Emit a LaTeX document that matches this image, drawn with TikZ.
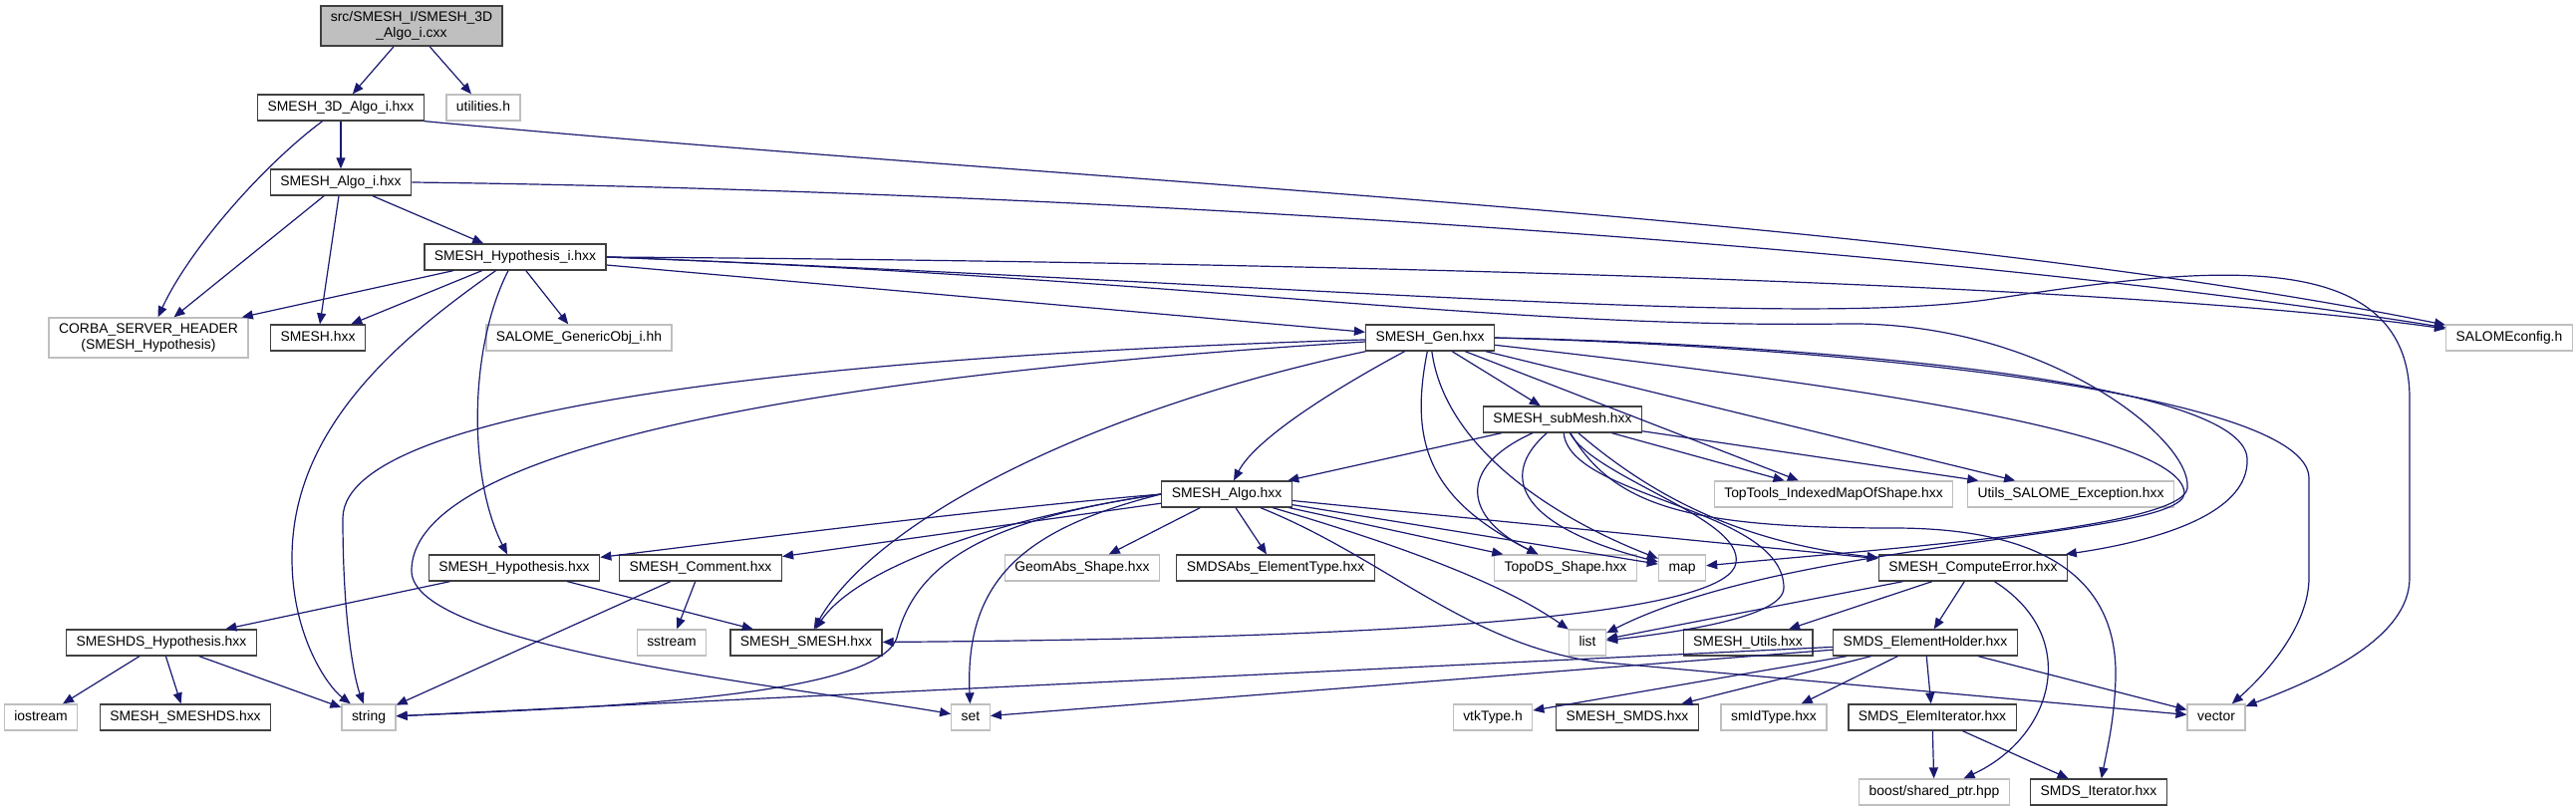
\documentclass[tikz,border=0pt]{standalone}
\usepackage{fontspec}
\setmainfont{Liberation Sans}
\usetikzlibrary{arrows.meta}
\definecolor{edgeblue}{HTML}{191970}
\definecolor{sysgray}{HTML}{BFBFBF}
\definecolor{boxline}{HTML}{404040}
\newcommand{\boxfont}{\fontsize{13.9}{15.5}\selectfont}
\tikzset{
  box/.style={draw=boxline, fill=white, line width=1.3pt, inner xsep=10pt, inner ysep=2pt, minimum height=26pt, font=\boxfont},
  file/.style={box, text height=10pt, text depth=3pt},
  sysfile/.style={file, draw=sysgray},
  dep/.style={-{Triangle[length=11pt,width=9pt]}, draw=edgeblue, line width=1.2pt},
}
\begin{document}
\begin{tikzpicture}[x=1pt, y=-1pt]
    \useasboundingbox (0,0) rectangle (2585,813);

    % files, rank by rank
    \node[box, align=center, fill=sysgray, minimum height=40pt] (src) at (413,26) {src/SMESH\_I/SMESH\_3D\\\_Algo\_i.cxx};
    \node[file] (algo3d) at (342,108) {SMESH\_3D\_Algo\_i.hxx};
    \node[sysfile] (utilities) at (485,108) {utilities.h};
    \node[file] (algoi) at (342,183) {SMESH\_Algo\_i.hxx};
    \node[file] (hypi) at (517,258) {SMESH\_Hypothesis\_i.hxx};
    \node[box, align=center, draw=sysgray, minimum height=40pt] (corba) at (149,339) {CORBA\_SERVER\_HEADER\\(SMESH\_Hypothesis)};
    \node[file] (smesh) at (319,339) {SMESH.hxx};
    \node[sysfile] (genobj) at (581,339) {SALOME\_GenericObj\_i.hh};
    \node[file] (gen) at (1435,339) {SMESH\_Gen.hxx};
    \node[sysfile] (config) at (2518,339) {SALOMEconfig.h};
    \node[file] (submesh) at (1568,421) {SMESH\_subMesh.hxx};
    \node[file] (algo) at (1231,496) {SMESH\_Algo.hxx};
    \node[sysfile] (toptools) at (1840,496) {TopTools\_IndexedMapOfShape.hxx};
    \node[sysfile] (exception) at (2078,496) {Utils\_SALOME\_Exception.hxx};
    \node[file] (hyp) at (516,570) {SMESH\_Hypothesis.hxx};
    \node[file] (comment) at (703,570) {SMESH\_Comment.hxx};
    \node[sysfile] (geomabs) at (1086,570) {GeomAbs\_Shape.hxx};
    \node[file] (elemtype) at (1280,570) {SMDSAbs\_ElementType.hxx};
    \node[sysfile] (topods) at (1571,570) {TopoDS\_Shape.hxx};
    \node[sysfile] (map) at (1688,570) {map};
    \node[file] (comperr) at (1980,570) {SMESH\_ComputeError.hxx};
    \node[file] (dshyp) at (162,645) {SMESHDS\_Hypothesis.hxx};
    \node[sysfile] (sstream) at (674,645) {sstream};
    \node[file] (smeshsmesh) at (809,645) {SMESH\_SMESH.hxx};
    \node[sysfile] (list) at (1593,645) {list};
    \node[file] (utils) at (1754,645) {SMESH\_Utils.hxx};
    \node[file] (holder) at (1932,645) {SMDS\_ElementHolder.hxx};
    \node[sysfile] (iostream) at (41,720) {iostream};
    \node[file] (smeshds) at (186,720) {SMESH\_SMESHDS.hxx};
    \node[sysfile] (string) at (370,720) {string};
    \node[sysfile] (set) at (974,720) {set};
    \node[sysfile] (vtk) at (1498,720) {vtkType.h};
    \node[file] (smds) at (1633,720) {SMESH\_SMDS.hxx};
    \node[sysfile] (smid) at (1780,720) {smIdType.hxx};
    \node[file] (elemit) at (1939,720) {SMDS\_ElemIterator.hxx};
    \node[sysfile] (vector) at (2224,720) {vector};
    \node[sysfile] (boost) at (1941,795) {boost/shared\_ptr.hpp};
    \node[file] (iter) at (2106,795) {SMDS\_Iterator.hxx};

    % source file
    \draw[dep] (src) -- (algo3d);
    \draw[dep] (src) -- (utilities);

    % SMESH_3D_Algo_i.hxx
    \draw[dep] (algo3d) -- (algoi);
    \draw[dep] (algo3d) .. controls (265,165) and (190,250) .. (corba);
    \draw[dep] (algo3d.south east) .. controls (1100,185) and (1900,215) .. (config);

    % SMESH_Algo_i.hxx
    \draw[dep] (algoi) -- (hypi);
    \draw[dep] (algoi) -- (corba);
    \draw[dep] (algoi) -- (smesh);
    \draw[dep] (algoi.east) .. controls (1000,190) and (1900,240) .. (config);

    % SMESH_Hypothesis_i.hxx
    \draw[dep] (hypi) -- (corba);
    \draw[dep] (hypi) -- (smesh);
    \draw[dep] (hypi) -- (genobj);
    \draw[dep] (hypi) .. controls (470,350) and (470,480) .. (hyp);
    \draw[dep] (hypi) .. controls (400,340) and (293,430) .. (293,560) .. controls (293,640) and (330,690) .. (string);
    \draw[dep] (hypi) -- (gen);
    \draw[dep] (hypi.east) .. controls (1200,262) and (2100,280) .. (config);
    \draw[dep] (hypi.east) .. controls (1300,285) and (1800,330) .. (2000,300) .. controls (2200,270) and (2418,240) .. (2418,400) -- (2418,580) .. controls (2418,640) and (2330,680) .. (vector);
    \draw[dep] (hypi.east) .. controls (1200,280) and (1500,330) .. (1850,325) .. controls (2050,322) and (2200,440) .. (2195,490) .. controls (2190,530) and (1900,550) .. (map);

    % SMESH_Gen.hxx
    \draw[dep] (gen) -- (submesh);
    \draw[dep] (gen) .. controls (1340,390) and (1260,440) .. (algo);
    \draw[dep] (gen) .. controls (1100,410) and (880,520) .. (smeshsmesh);
    \draw[dep] (gen) .. controls (900,355) and (345,400) .. (344,520) .. controls (344,620) and (355,680) .. (string);
    \draw[dep] (gen) .. controls (850,375) and (413,445) .. (413,573) .. controls (413,650) and (800,690) .. (set);
    \draw[dep] (gen) .. controls (1415,440) and (1430,500) .. (topods);
    \draw[dep] (gen) .. controls (1450,450) and (1560,520) .. (map);
    \draw[dep] (gen) -- (toptools);
    \draw[dep] (gen) -- (exception);
    \draw[dep] (gen.east) .. controls (1800,345) and (2250,380) .. (2255,460) .. controls (2258,520) and (2150,545) .. (comperr);
    \draw[dep] (gen.east) .. controls (1900,350) and (2317,400) .. (2317,480) -- (2317,580) .. controls (2317,630) and (2270,680) .. (vector);
    \draw[dep] (gen) .. controls (1800,380) and (2190,430) .. (2192,495) .. controls (2190,540) and (1800,540) .. (list);

    % SMESH_subMesh.hxx
    \draw[dep] (submesh) -- (algo);
    \draw[dep] (submesh) -- (toptools);
    \draw[dep] (submesh) -- (exception);
    \draw[dep] (submesh) .. controls (1460,470) and (1470,520) .. (topods);
    \draw[dep] (submesh) .. controls (1500,480) and (1530,530) .. (map);
    \draw[dep] (submesh) .. controls (1575,500) and (1790,510) .. (1790,590) .. controls (1790,620) and (1680,635) .. (list);
    \draw[dep] (submesh) .. controls (1660,500) and (1750,545) .. (comperr);
    \draw[dep] (submesh) .. controls (1620,510) and (1700,530) .. (1900,530) .. controls (2050,530) and (2125,580) .. (2123,680) .. controls (2122,720) and (2115,750) .. (iter);
    \draw[dep] (submesh) .. controls (1600,480) and (1750,520) .. (1742,565) .. controls (1735,610) and (1500,640) .. (smeshsmesh);

    % SMESH_Algo.hxx
    \draw[dep] (algo.west) .. controls (1000,510) and (800,535) .. (hyp);
    \draw[dep] (algo) -- (comment);
    \draw[dep] (algo.west) .. controls (1000,520) and (860,570) .. (smeshsmesh);
    \draw[dep] (algo.west) .. controls (1000,520) and (920,560) .. (900,640) .. controls (880,700) and (600,710) .. (string);
    \draw[dep] (algo.west) .. controls (1030,530) and (968,580) .. (set);
    \draw[dep] (algo) -- (geomabs);
    \draw[dep] (algo) -- (elemtype);
    \draw[dep] (algo) -- (topods);
    \draw[dep] (algo) -- (map);
    \draw[dep] (algo) -- (comperr);
    \draw[dep] (algo) .. controls (1380,540) and (1500,580) .. (list);
    \draw[dep] (algo) .. controls (1390,560) and (1470,645) .. (1600,664) -- (vector);

    % lower ranks
    \draw[dep] (hyp) -- (dshyp);
    \draw[dep] (hyp) -- (smeshsmesh);
    \draw[dep] (comment) -- (sstream);
    \draw[dep] (comment) -- (string);
    \draw[dep] (dshyp) -- (iostream);
    \draw[dep] (dshyp) -- (smeshds);
    \draw[dep] (dshyp) -- (string);
    \draw[dep] (comperr) -- (list);
    \draw[dep] (comperr) -- (utils);
    \draw[dep] (comperr) -- (holder);
    \draw[dep] (comperr) .. controls (2090,640) and (2060,740) .. (boost);
    \draw[dep] (holder) -- (string);
    \draw[dep] (holder) -- (set);
    \draw[dep] (holder) -- (vtk);
    \draw[dep] (holder) -- (smds);
    \draw[dep] (holder) -- (smid);
    \draw[dep] (holder) -- (elemit);
    \draw[dep] (holder) -- (vector);
    \draw[dep] (elemit) -- (boost);
    \draw[dep] (elemit) -- (iter);
\end{tikzpicture}
\end{document}
